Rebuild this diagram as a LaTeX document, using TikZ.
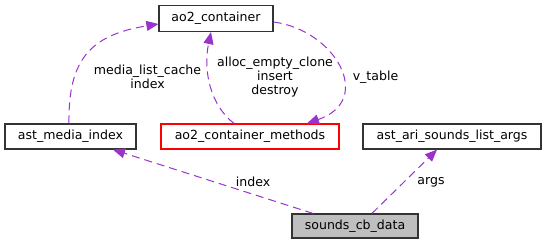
\documentclass[tikz,border=0pt]{standalone}
\usepackage{fontspec}
\setmainfont{DejaVu Sans}
\usetikzlibrary{arrows.meta}

\definecolor{edgepurple}{RGB}{154,50,205}
\definecolor{boxred}{RGB}{255,0,0}
\definecolor{boxgray}{RGB}{191,191,191}

\tikzset{
  box/.style={draw=black!80, line width=1.2bp, inner sep=0pt, minimum height=25bp,
              font=\fontsize{12.6}{14}\selectfont},
  member/.style={draw=edgepurple, line width=1bp, dash pattern=on 8bp off 5bp,
                 -{Triangle[length=12bp,width=10bp]}},
  tag/.style={inner sep=0pt, align=center, font=\fontsize{12.6}{14}\selectfont}
}

\begin{document}
\begin{tikzpicture}[x=1bp, y=-1bp]
  \useasboundingbox (0,0) rectangle (547,245);

% --- STRUCTS ---
  \node[box, minimum width=114bp, minimum height=26bp] (cont) at (216,18.5) {ao2\_container};
  \node[box, minimum width=131bp] (media) at (70.5,136.5) {ast\_media\_index};
  \node[box, draw=boxred, minimum width=178bp] (methods) at (250,136.5) {ao2\_container\_methods};
  \node[box, minimum width=178bp] (args) at (452,136.5) {ast\_ari\_sounds\_list\_args};
  \node[box, fill=boxgray, minimum width=126bp, minimum height=24bp] (cbdata) at (355,226) {sounds\_cb\_data};

% --- MEMBERS ---
  % upper part
  \draw[member] ([xshift=-1.5bp]media.north) .. controls (68,60) and (90,35) .. ([yshift=-5.5bp]cont.west);
  \draw[member] ([xshift=-16bp]methods.north) .. controls (210,105) and (203,70) .. ([xshift=-5bp]cont.south);
  \draw[member] ([yshift=-3.5bp]cont.east) .. controls (335,30) and (375,100) .. ([xshift=57bp]methods.north);

  % lower part
  \draw[member] ([xshift=-42bp]cbdata.north) -- ([xshift=42.5bp]media.south);
  \draw[member] ([xshift=17bp]cbdata.north) -- ([xshift=-15bp]args.south);

  % labels
  \node[tag] (lcache) at (147.5,77) {media\_list\_cache\\index};
  \node[tag] (lops) at (275,77) {alloc\_empty\_clone\\insert\\destroy};
  \node[tag] (lvtable) at (375.5,77) {v\_table};
  \node[tag] (lindex) at (253,182) {index};
  \node[tag] (largs) at (431,182) {args};
\end{tikzpicture}
\end{document}
